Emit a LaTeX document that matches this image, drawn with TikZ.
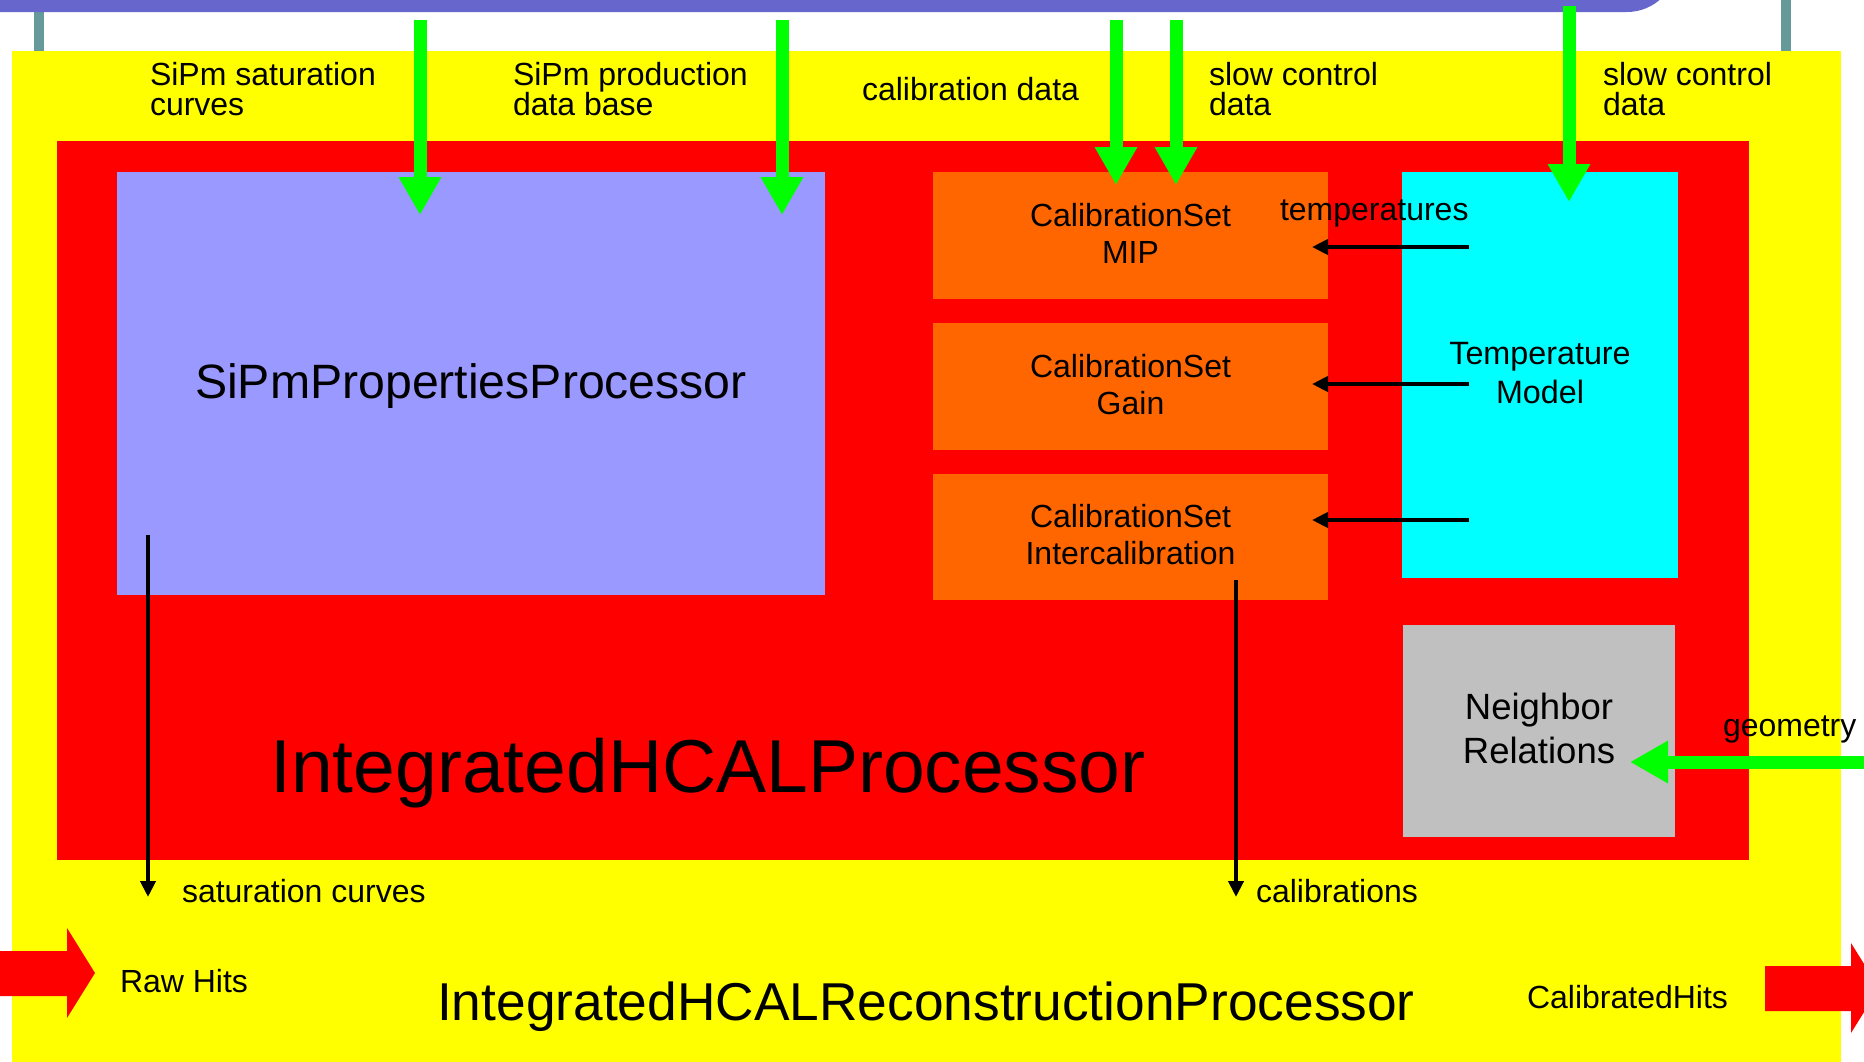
\documentclass[tikz,border=0pt]{standalone}
\usepackage{fontspec}
\setmainfont{Liberation Sans}
\usetikzlibrary{arrows.meta,calc}

\definecolor{outeryellow}{HTML}{FFFF00}
\definecolor{innerred}{HTML}{FF0000}
\definecolor{sipmblue}{HTML}{9999FF}
\definecolor{calorange}{HTML}{FF6600}
\definecolor{tempcyan}{HTML}{00FFFF}
\definecolor{neighgray}{HTML}{C0C0C0}
\definecolor{feedgreen}{HTML}{00FF00}
\definecolor{barblue}{HTML}{6666CC}
\definecolor{postgray}{HTML}{669999}

\begin{document}
\begin{tikzpicture}[x=1pt,y=-1pt,
  box/.style={draw=none, inner sep=0pt, outer sep=0pt, align=center},
  twoline/.style={text depth=5pt},
  lbl/.style={inner sep=0pt, outer sep=0pt, align=left, font=\fontsize{32}{30}\selectfont},
  feed/.style={draw=feedgreen, line width=13pt, -{Triangle[width=40pt,length=38pt]}},
  flow/.style={draw=black, line width=4pt, -{Triangle[width=15pt,length=16pt]}},
  bigarrow/.style={fill=innerred, draw=none},
]
\useasboundingbox (0,0) rectangle (1864,1061);
\clip (0,0) rectangle (1864,1061);

% posts and bar above the processor
\draw[postgray, line width=10pt] (39,0) -- (39,52);
\draw[postgray, line width=10pt] (1786,0) -- (1786,52);
\fill[barblue, rounded corners=50pt] (-80,-120) rectangle (1677,12);

% reconstruction processor and integrated processor
\node[box, fill=outeryellow, minimum width=1829pt, minimum height=1030pt] (reco) at (926.5,566) {};
\node[box, fill=innerred, minimum width=1692pt, minimum height=719pt] (ihcal) at (903,500.5) {};

% sub-processors
\node[box, fill=sipmblue, minimum width=708pt, minimum height=423pt, text height=40pt,
      font=\fontsize{48.2}{57}\selectfont] (sipm) at (471,383.5) {SiPmPropertiesProcessor};
\node[box, twoline, fill=calorange, minimum width=395pt, minimum height=127pt,
      font=\fontsize{32}{37}\selectfont] (mip) at (1130.5,235.5) {CalibrationSet\\MIP};
\node[box, twoline, fill=calorange, minimum width=395pt, minimum height=127pt,
      font=\fontsize{32}{37}\selectfont] (gain) at (1130.5,386.5) {CalibrationSet\\Gain};
\node[box, twoline, fill=calorange, minimum width=395pt, minimum height=126pt,
      font=\fontsize{32}{37}\selectfont] (ical) at (1130.5,537) {CalibrationSet\\Intercalibration};
\node[box, twoline, fill=tempcyan, minimum width=276pt, minimum height=406pt,
      font=\fontsize{32.3}{39}\selectfont] (temp) at (1540,375) {Temperature\\Model};
\node[box, twoline, fill=neighgray, minimum width=272pt, minimum height=212pt,
      font=\fontsize{36.5}{44}\selectfont] (neigh) at (1539,731) {Neighbor\\Relations};

\node[lbl, anchor=base, font=\fontsize{75}{80}\selectfont] (ihcalname) at (708,792) {IntegratedHCALProcessor};
\node[lbl, anchor=base, font=\fontsize{53.3}{60}\selectfont] (reconame) at (926,1020) {IntegratedHCALReconstructionProcessor};

% external inputs
\coordinate (srcsat) at (420,20);
\coordinate (srcprod) at (782,20);
\coordinate (srccal) at (1116,20);
\coordinate (srcslow) at (1176,20);
\coordinate (srcslowt) at (1569,6);
\coordinate (srcgeo) at (1880,762);
\draw[feed] (srcsat) -- ($(sipm.north -| srcsat)+(0,43)$);
\draw[feed] (srcprod) -- ($(sipm.north -| srcprod)+(0,43)$);
\draw[feed] (srccal) -- ($(mip.north -| srccal)+(0,13)$);
\draw[feed] (srcslow) -- ($(mip.north -| srcslow)+(0,13)$);
\draw[feed] (srcslowt) -- ($(temp.north -| srcslowt)+(0,30)$);
\draw[feed] (srcgeo) -- ($(neigh.east |- srcgeo)+(-45,0)$);

\node[lbl, anchor=base west] (lsat) at (150,115) {SiPm saturation\\curves};
\node[lbl, anchor=base west] (lprod) at (513,115) {SiPm production\\data base};
\node[lbl, anchor=base west] (lcal) at (862,100) {calibration data};
\node[lbl, anchor=base west] (lslow) at (1209,115) {slow control\\data};
\node[lbl, anchor=base west] (lslowt) at (1603,115) {slow control\\data};
\node[lbl, anchor=base west] (lgeo) at (1723,736) {geometry};

% temperatures to the calibration sets
\coordinate (tmip) at (1469,247);
\coordinate (tgain) at (1469,384);
\coordinate (tical) at (1469,520);
\draw[flow] (tmip) -- ($(mip.east |- tmip)+(-16,0)$);
\draw[flow] (tgain) -- ($(gain.east |- tgain)+(-16,0)$);
\draw[flow] (tical) -- ($(ical.east |- tical)+(-16,0)$);
\node[lbl, anchor=base west] (ltemp) at (1280,220) {temperatures};

% outputs of the integrated processor
\coordinate (satout) at (148,897);
\coordinate (calout) at (1236,897);
\draw[flow] ($(sipm.south -| satout)+(0,-60)$) -- (satout);
\draw[flow] ($(ical.south -| calout)+(0,-20)$) -- (calout);
\node[lbl, anchor=base west] (lsatout) at (182,902) {saturation curves};
\node[lbl, anchor=base west] (lcalout) at (1256,902) {calibrations};

% hit collections in and out
\fill[bigarrow] (-5,951) -- (67,951) -- (67,928) -- (95,973) -- (67,1018) -- (67,996) -- (-5,996) -- cycle;
\fill[bigarrow] (1765,966) -- (1851,966) -- (1851,943) -- (1879,988) -- (1851,1033) -- (1851,1011) -- (1765,1011) -- cycle;
\node[lbl, anchor=base west] (lraw) at (120,992) {Raw Hits};
\node[lbl, anchor=base west] (lcalhits) at (1527,1008) {CalibratedHits};
\end{tikzpicture}
\end{document}
